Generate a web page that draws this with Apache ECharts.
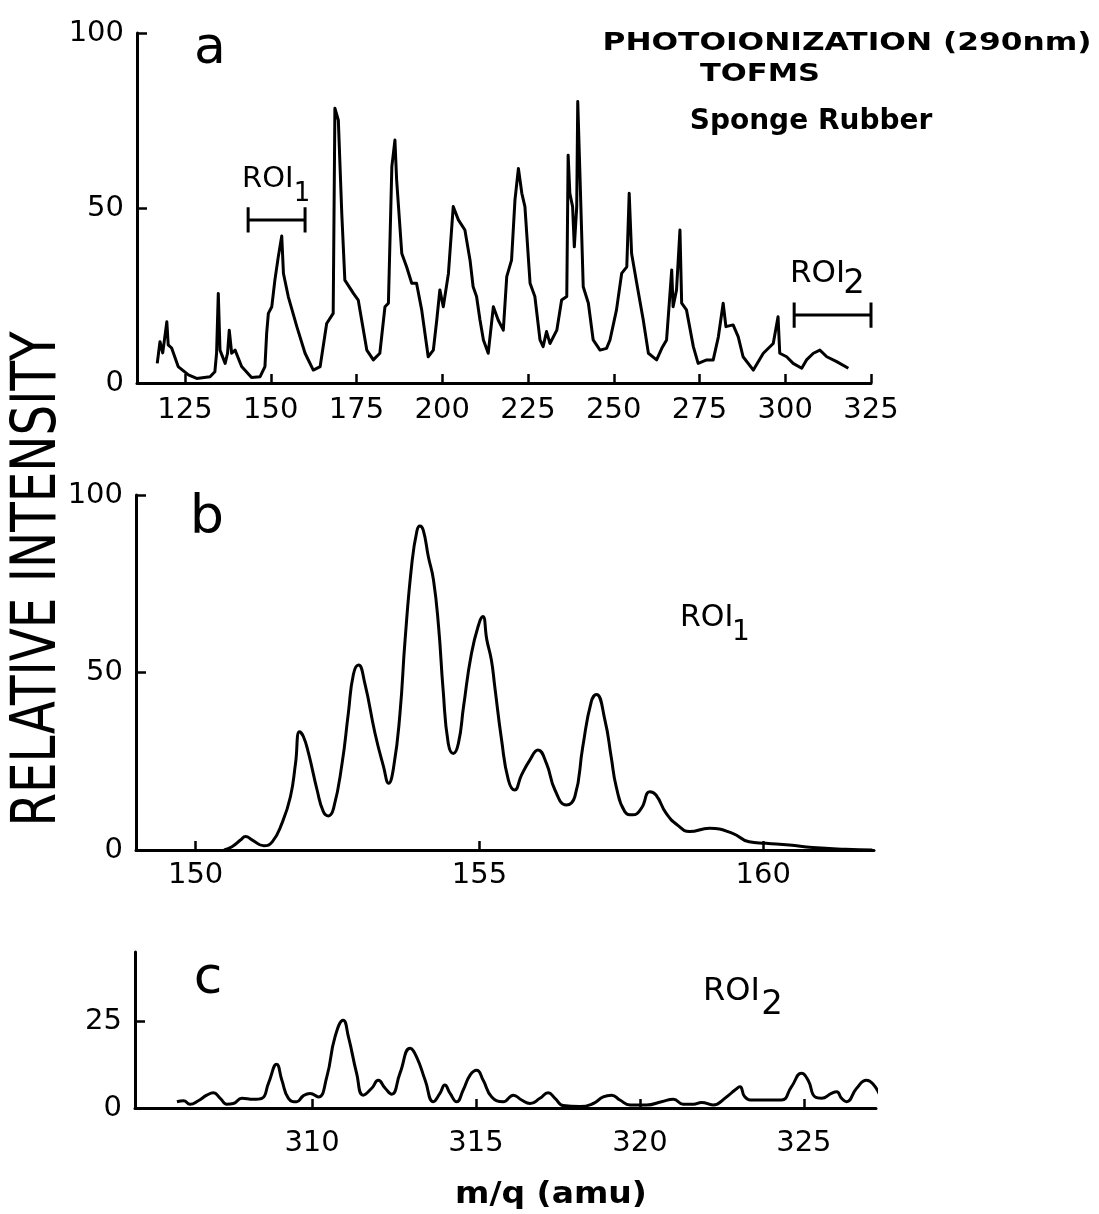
<!DOCTYPE html>
<html>
<head>
<meta charset="utf-8">
<script src="https://cdn.jsdelivr.net/npm/echarts@6/dist/echarts.min.js"></script>
<style>
  html, body { margin: 0; padding: 0; background: #fff; }
  #chart { width: 1099px; height: 1214px; }
</style>
</head>
<body>
<div id="chart"></div>
<script>
// ---- data: [m/q (amu), relative intensity] ----
const spectrumA = [
  [116.9, 5.6], [117.7, 11.8], [118.5, 8.6], [119.7, 17.5], [120.1, 10.9], [121.1, 10],
  [123.0, 4.7], [126.0, 2.3], [128.4, 1.3], [132.3, 1.8], [133.7, 3.2], [134.2, 8.5],
  [134.7, 25.6], [135.2, 9.4], [136.7, 5.6], [137.4, 8.5], [137.9, 15.1], [138.6, 8.5],
  [139.6, 9.4], [141.5, 4.7], [144.4, 1.6], [146.9, 1.8], [148.3, 4.7], [148.8, 14.2],
  [149.3, 19.9], [150.3, 21.8], [151.2, 29.4], [152.2, 36.1], [153.2, 42], [153.7, 31.3],
  [155.1, 24.7], [157.6, 16.1], [160.0, 8.5], [162.4, 3.7], [164.4, 4.7], [166.3, 17],
  [168.2, 19.9], [168.7, 78.5], [169.7, 75.1], [170.7, 48.5], [171.6, 29.4], [174.1, 25.6],
  [175.5, 23.7], [178.0, 9.4], [179.9, 6.6], [181.8, 8.5], [183.3, 21.8], [184.3, 22.8],
  [185.3, 61.8], [186.2, 69.4], [186.7, 58], [188.2, 37], [189.6, 33.2], [191.1, 28.5],
  [192.5, 28.5], [194.0, 20.9], [195.9, 7.5], [197.4, 9.4], [198.4, 18], [199.3, 26.6],
  [200.3, 21.8], [201.8, 31.3], [203.2, 50.4], [204.7, 46.6], [206.6, 43.7], [208.1, 35.1],
  [209.0, 27.5], [210.0, 24.7], [211.0, 18], [212.0, 12.3], [213.4, 8.5], [214.9, 21.8],
  [216.3, 18], [217.8, 15.1], [218.8, 30.4], [220.2, 35.1], [221.2, 52.3], [222.2, 61.3],
  [223.2, 54.2], [224.1, 50.4], [225.6, 28.5], [227.0, 24.7], [228.5, 12.3], [229.4, 10.4],
  [230.4, 14.7], [231.4, 11.3], [233.4, 15.1], [234.8, 23.7], [236.3, 24.7], [236.7, 65.1],
  [237.2, 54.2], [238.0, 50.4], [238.5, 38.9], [239.2, 50.4], [239.5, 80.4], [240.1, 60.9],
  [241.1, 27.5], [242.6, 22.8], [244.0, 12.3], [246.0, 9.4], [247.9, 9.9], [248.9, 12.3],
  [250.8, 20.9], [252.3, 31.3], [253.8, 33.2], [254.5, 54.2], [255.2, 37], [256.7, 28.5],
  [258.6, 18], [260.1, 8.5], [262.5, 6.6], [264.0, 9.9], [265.4, 12.3], [266.9, 32.3],
  [267.3, 21.8], [268.3, 26.6], [269.3, 43.7], [269.8, 22.8], [271.2, 20.9], [273.2, 10.4],
  [274.6, 5.6], [277.1, 6.6], [279.0, 6.6], [280.5, 13.2], [281.9, 22.8], [282.7, 16.1],
  [284.8, 16.6], [286.3, 13.2], [287.7, 7.5], [290.7, 3.7], [293.6, 8.5], [296.5, 11.3],
  [297.9, 18.9], [298.4, 8.5], [300.4, 7.5], [302.3, 5.6], [304.8, 4.2], [306.2, 6.6],
  [308.2, 8.5], [310.1, 9.4], [312.1, 7.5], [315.0, 6.1], [318.4, 4.2]
];

const spectrumB = [
  [150.50, 0], [150.64, 0.9], [150.79, 2.8], [150.88, 3.8], [151.00, 2.8], [151.20, 1.2],
  [151.35, 2.3], [151.52, 7.5], [151.67, 15], [151.76, 24.4], [151.83, 33.3], [151.90, 31.9],
  [151.99, 27.2], [152.14, 16.9], [152.25, 10.8], [152.34, 9.6], [152.43, 11.7], [152.58, 24.4],
  [152.69, 38.5], [152.78, 49.5], [152.87, 52.1], [152.98, 47], [153.16, 32.9], [153.31, 23.5],
  [153.40, 18.8], [153.49, 23.5], [153.60, 38.5], [153.69, 59.2], [153.81, 80.8], [153.90, 90.0],
  [153.95, 91.3], [154.01, 90.1], [154.10, 82.6], [154.19, 76.1], [154.28, 62.9], [154.36, 45.1],
  [154.45, 30.1], [154.54, 27.2], [154.63, 30.1], [154.72, 40.4], [154.86, 55.4], [155.00, 64.2],
  [155.06, 65.8], [155.13, 59.2], [155.21, 53.5], [155.27, 46], [155.39, 31], [155.51, 19.7],
  [155.62, 16.9], [155.74, 21.1], [155.89, 25.4], [156.03, 28.2], [156.18, 24.4], [156.33, 16.9],
  [156.53, 12.7], [156.68, 15], [156.82, 29.1], [156.97, 41.8], [157.06, 43.8], [157.21, 36.6],
  [157.32, 26.3], [157.41, 17.8], [157.56, 10.8], [157.70, 9.9], [157.85, 11.7], [158.00, 16.4],
  [158.11, 15.5], [158.29, 10.3], [158.49, 7], [158.70, 5.2], [159.05, 6.1], [159.46, 4.7],
  [159.75, 2.3], [160.05, 1.9], [160.46, 1.4], [160.87, 0.7], [161.45, 0.2], [161.92, 0]
];

const spectrumC = [
  [305.88, 1.8], [306.08, 2.1], [306.28, 1.1], [306.53, 2.1], [306.79, 3.7], [306.99, 4.4],
  [307.20, 2.8], [307.40, 1.1], [307.60, 1.3], [307.86, 2.8], [308.21, 2.5], [308.47, 2.8],
  [308.67, 7.1], [308.92, 12.6], [309.08, 8], [309.28, 2.8], [309.53, 1.8], [309.73, 3.5],
  [309.94, 4.2], [310.19, 3.2], [310.45, 9], [310.70, 20.5], [310.95, 25.3], [311.11, 20.5],
  [311.36, 10], [311.56, 3.7], [311.82, 5.7], [312.02, 8], [312.23, 5.7], [312.43, 4],
  [312.68, 10], [312.99, 17.2], [313.19, 14.7], [313.45, 8], [313.70, 1.8], [313.90, 4.2],
  [314.05, 6.6], [314.21, 4.2], [314.41, 1.8], [314.61, 5.2], [314.82, 9.5], [315.02, 10.9],
  [315.22, 8], [315.48, 3.2], [315.83, 1.8], [316.14, 3.7], [316.39, 2.3], [316.65, 1.3],
  [316.95, 2.8], [317.20, 4.4], [317.41, 2.8], [317.66, 0.7], [318.17, 0.4], [318.58, 1.3],
  [318.88, 3.2], [319.14, 3.7], [319.39, 2.3], [319.70, 0.9], [320.20, 0.9], [320.66, 1.8],
  [321.02, 2.5], [321.32, 1.1], [321.63, 1.1], [321.88, 1.6], [322.23, 0.9], [322.64, 3.2],
  [322.90, 5.2], [323.05, 6.1], [323.20, 3.2], [323.45, 2.3], [323.86, 2.3], [324.32, 2.3],
  [324.62, 6.1], [324.93, 10], [325.13, 8], [325.34, 3.2], [325.54, 2.8], [325.84, 4.2],
  [326.00, 4.7], [326.15, 2.8], [326.30, 1.8], [326.61, 5.7], [326.91, 8], [327.12, 6.8],
  [327.37, 3.2], [327.58, 1.3]
];

// tick labels
const ticksA = [125, 150, 175, 200, 225, 250, 275, 300, 325];
const ticksB = [150, 155, 160];
const ticksC = [310, 315, 320, 325];
const yTicksC = [0, 25];

// regions of interest marked on the survey spectrum: m/q span and marker level
const roi1Span = [143.4, 160.0];
const roi1Level = 46.6;
const roi2Span = [302.6, 325.0];
const roi2Level = 19.4;

// ---- chart ----
const FONT = 'DejaVu Sans';
const INK = '#000';

function xAxisCfg(gridIndex, min, max, ticks, margin) {
  return {
    type: 'value', gridIndex, min, max,
    axisLine: { show: true, onZero: false, lineStyle: { color: INK, width: 3 } },
    axisTick: { show: true, inside: true, length: 9, customValues: ticks,
      lineStyle: { color: INK, width: 2.5 } },
    axisLabel: { customValues: ticks, color: INK, fontFamily: FONT, fontSize: 29, margin },
    splitLine: { show: false }
  };
}

function yAxisCfg(gridIndex, max, extra) {
  return Object.assign({
    type: 'value', gridIndex, min: 0, max,
    axisLine: { show: true, lineStyle: { color: INK, width: 3 } },
    axisTick: { show: true, inside: true, length: 10, lineStyle: { color: INK, width: 2.5 } },
    axisLabel: { color: INK, fontFamily: FONT, fontSize: 29, margin: 13 },
    splitLine: { show: false }
  }, extra || {});
}

function trace(data, gridIndex, smooth) {
  return {
    type: 'line', xAxisIndex: gridIndex, yAxisIndex: gridIndex, data,
    showSymbol: false, symbol: 'none', smooth: smooth,
    clip: false, silent: true,
    lineStyle: { color: INK, width: 3, join: 'round' }
  };
}

function segment(points) {
  return {
    type: 'line', xAxisIndex: 0, yAxisIndex: 0, data: points,
    showSymbol: false, symbol: 'none', silent: true, clip: false,
    lineStyle: { color: INK, width: 3 }
  };
}

// horizontal bar with end caps spanning an m/q range
function bracket(span, level) {
  const cap = 3.6;
  return [
    segment([[span[0], level], [span[1], level]]),
    segment([[span[0], level - cap], [span[0], level + cap]]),
    segment([[span[1], level - cap], [span[1], level + cap]])
  ];
}

function label(text, x, y, size, opts) {
  opts = opts || {};
  return {
    type: 'text', x, y, rotation: opts.rotation || 0,
    scaleX: opts.scaleX || 1, scaleY: 1, silent: true,
    style: {
      text, x: 0, y: 0, fill: INK,
      font: (opts.bold ? 'bold ' : '') + size + 'px "' + FONT + '"',
      align: opts.align || 'left', verticalAlign: 'middle'
    }
  };
}

const option = {
  backgroundColor: '#fff',
  animation: false,
  grid: [
    { left: 137, top: 33, width: 734, height: 350 },
    { left: 136, top: 495, width: 738, height: 355 },
    { left: 135, top: 952, width: 741, height: 156 }
  ],
  xAxis: [
    xAxisCfg(0, 111, 325, ticksA, 13),
    xAxisCfg(1, 148.95, 161.95, ticksB, 11),
    xAxisCfg(2, 304.6, 327.2, ticksC, 21)
  ],
  yAxis: [
    yAxisCfg(0, 100, { interval: 50 }),
    yAxisCfg(1, 100, { interval: 50 }),
    yAxisCfg(2, 45, {
      axisTick: { show: true, inside: true, length: 10, customValues: yTicksC,
        lineStyle: { color: INK, width: 2.5 } },
      axisLabel: { customValues: yTicksC, color: INK, fontFamily: FONT, fontSize: 29, margin: 13 }
    })
  ],
  series: [
    trace(spectrumA, 0, false),
    trace(spectrumB, 1, 0.5),
    trace(spectrumC, 2, 0.5)
  ].concat(bracket(roi1Span, roi1Level), bracket(roi2Span, roi2Level)),
  graphic: [
    label('RELATIVE INTENSITY', 39, 579, 62, { align: 'center', rotation: Math.PI / 2, scaleX: 0.78 }),
    label('PHOTOIONIZATION (290nm)', 847, 43, 25, { align: 'center', bold: true, scaleX: 1.25 }),
    label('TOFMS', 760, 74, 25, { align: 'center', bold: true, scaleX: 1.22 }),
    label('Sponge Rubber', 811, 122, 28, { align: 'center', bold: true }),
    label('a', 210, 49, 52, { align: 'center' }),
    label('b', 207, 519, 54, { align: 'center' }),
    label('c', 208, 979, 52, { align: 'center' }),
    label('ROI', 242, 179, 29),
    label('1', 302, 194, 26, { align: 'center' }),
    label('ROI', 790, 274, 31),
    label('2', 854, 284, 34, { align: 'center' }),
    label('ROI', 680, 618, 30),
    label('1', 741, 633, 28, { align: 'center' }),
    label('ROI', 703, 992, 32),
    label('2', 772, 1005, 34, { align: 'center' }),
    label('m/q (amu)', 551, 1195, 30, { align: 'center', bold: true, scaleX: 1.1 })
  ]
};

const chart = echarts.init(document.getElementById('chart'), null, { renderer: 'canvas' });
chart.setOption(option);
</script>
</body>
</html>
